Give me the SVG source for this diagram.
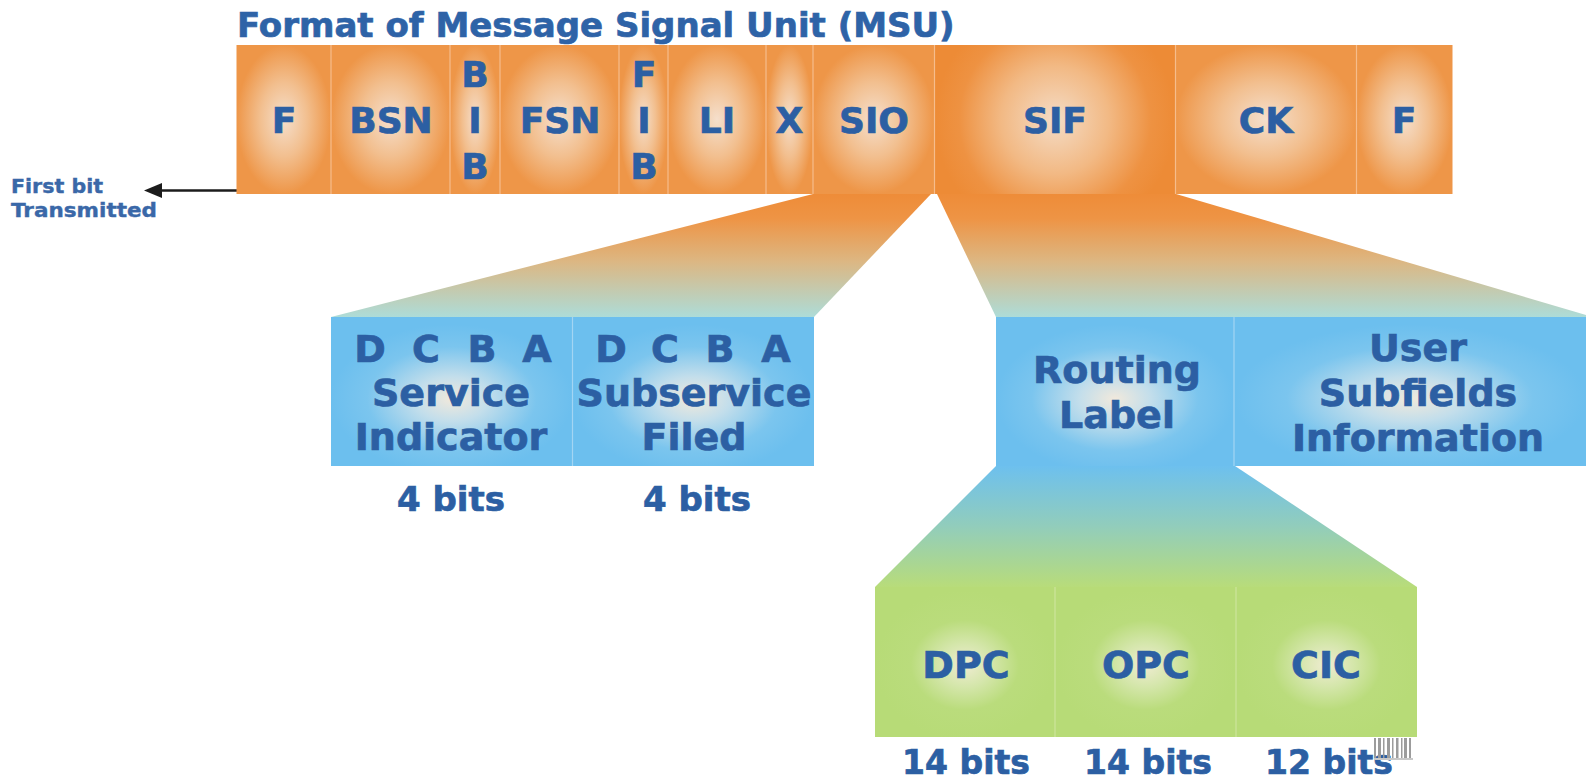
<svg xmlns="http://www.w3.org/2000/svg" width="1586" height="783" viewBox="0 0 1586 783">
  <defs>
    <style>
      .lbl { font-family: "DejaVu Sans", Verdana, sans-serif; font-weight: bold; fill: #2C5FA3; stroke: #2C5FA3; stroke-width: 0.7; text-anchor: middle; }
      .bar { font-size: 36px; }
      .box { font-size: 38px; }
      .bits { font-size: 34px; }
      .bits-low { font-size: 33px; }
      .div-o { stroke: #F6BC8C; stroke-width: 1.2; }
      .div-b { stroke: #A3D5F3; stroke-width: 1.2; }
      .div-g { stroke: #CDE49C; stroke-width: 1.2; }
    </style>
    <radialGradient id="orangeCell" cx="0.5" cy="0.5" r="0.5">
      <stop offset="0" stop-color="#F5DFCC"/>
      <stop offset="0.5" stop-color="#F2BF8F"/>
      <stop offset="1" stop-color="#EE9648"/>
    </radialGradient>
    <radialGradient id="sifGlow" gradientUnits="userSpaceOnUse" cx="1055" cy="120" r="120">
      <stop offset="0" stop-color="#F4DCC6"/>
      <stop offset="0.45" stop-color="#F2B984"/>
      <stop offset="0.8" stop-color="#EE9242"/>
      <stop offset="1" stop-color="#ED8B36"/>
    </radialGradient>
    <linearGradient id="funnelOrange" x1="0" y1="0" x2="0" y2="1">
      <stop offset="0" stop-color="#EE8C38"/>
      <stop offset="0.2" stop-color="#EE9445"/>
      <stop offset="0.55" stop-color="#DCB783"/>
      <stop offset="1" stop-color="#ADDCD8"/>
    </linearGradient>
    <linearGradient id="funnelBlue" x1="0" y1="0" x2="0" y2="1">
      <stop offset="0" stop-color="#6DC0EE"/>
      <stop offset="0.5" stop-color="#92CDBB"/>
      <stop offset="1" stop-color="#B8DC7A"/>
    </linearGradient>
    <radialGradient id="blueCell" cx="0.5" cy="0.55" r="0.5">
      <stop offset="0" stop-color="#F1E9DC"/>
      <stop offset="0.3" stop-color="#C3DEEB"/>
      <stop offset="0.7" stop-color="#7BC5EE"/>
      <stop offset="1" stop-color="#6CBFEE"/>
    </radialGradient>
    <radialGradient id="greenCell" cx="0.5" cy="0.52" r="0.5">
      <stop offset="0" stop-color="#EFECD2"/>
      <stop offset="0.3" stop-color="#D4E6AA"/>
      <stop offset="0.6" stop-color="#BADC7C"/>
      <stop offset="1" stop-color="#B7DB77"/>
    </radialGradient>
  </defs>

  <rect width="1586" height="783" fill="#FFFFFF"/>

  <text x="237" y="37" class="lbl" style="text-anchor:start;font-size:34px;fill:#2E63A7;stroke:#2E63A7">Format of Message Signal Unit (MSU)</text>

  <!-- expansion funnels and the transmit-direction arrow -->
  <g id="connectors">
    <polygon points="813,194 931,194 814,317 331,317" fill="url(#funnelOrange)"/>
    <polygon points="937,194 1176,194 1586,315 1586,317 996,317" fill="url(#funnelOrange)"/>
    <polygon points="996,466 1235,466 1417,587 875,587" fill="url(#funnelBlue)"/>
    <line x1="237" y1="190.5" x2="158" y2="190.5" stroke="#1C1C1C" stroke-width="2.5"/>
    <polygon points="144,190.5 162,183 162,198" fill="#1C1C1C"/>
  </g>

  <!-- MSU fields -->
  <g id="msu">
    <rect x="236.5" y="45" width="94.5" height="149" fill="url(#orangeCell)"/>
    <rect x="331" y="45" width="119" height="149" fill="url(#orangeCell)"/>
    <rect x="450" y="45" width="50" height="149" fill="url(#orangeCell)"/>
    <rect x="500" y="45" width="119" height="149" fill="url(#orangeCell)"/>
    <rect x="619" y="45" width="49" height="149" fill="url(#orangeCell)"/>
    <rect x="668" y="45" width="98" height="149" fill="url(#orangeCell)"/>
    <rect x="766" y="45" width="47" height="149" fill="url(#orangeCell)"/>
    <rect x="813" y="45" width="121.5" height="149" fill="url(#orangeCell)"/>
    <rect x="934.5" y="45" width="241" height="149" fill="url(#sifGlow)"/>
    <rect x="1175.5" y="45" width="181" height="149" fill="url(#orangeCell)"/>
    <rect x="1356.5" y="45" width="96" height="149" fill="url(#orangeCell)"/>
    <g class="div-o">
      <line x1="331" y1="45" x2="331" y2="194"/>
      <line x1="450" y1="45" x2="450" y2="194"/>
      <line x1="500" y1="45" x2="500" y2="194"/>
      <line x1="619" y1="45" x2="619" y2="194"/>
      <line x1="668" y1="45" x2="668" y2="194"/>
      <line x1="766" y1="45" x2="766" y2="194"/>
      <line x1="813" y1="45" x2="813" y2="194"/>
      <line x1="934.5" y1="45" x2="934.5" y2="194"/>
      <line x1="1175.5" y1="45" x2="1175.5" y2="194"/>
      <line x1="1356.5" y1="45" x2="1356.5" y2="194"/>
    </g>
  </g>
  <g id="f-open"><text x="284" y="133" class="lbl bar">F</text></g>
  <g id="bsn"><text x="391" y="133" class="lbl bar">BSN</text></g>
  <g id="bib">
    <text x="475" y="87" class="lbl bar">B</text>
    <text x="475" y="133" class="lbl bar">I</text>
    <text x="475" y="179" class="lbl bar">B</text>
  </g>
  <g id="fsn"><text x="560" y="133" class="lbl bar">FSN</text></g>
  <g id="fib">
    <text x="644" y="87" class="lbl bar">F</text>
    <text x="644" y="133" class="lbl bar">I</text>
    <text x="644" y="179" class="lbl bar">B</text>
  </g>
  <g id="li"><text x="717" y="133" class="lbl bar">LI</text></g>
  <g id="x"><text x="789.5" y="133" class="lbl bar">X</text></g>
  <g id="sio"><text x="874" y="133" class="lbl bar">SIO</text></g>
  <g id="sif"><text x="1055" y="133" class="lbl bar">SIF</text></g>
  <g id="ck"><text x="1266" y="133" class="lbl bar">CK</text></g>
  <g id="f-close"><text x="1404" y="133" class="lbl bar">F</text></g>

  <g id="first-bit">
    <text x="11" y="193" class="lbl" style="text-anchor:start;font-size:20px;fill:#3A68A8;stroke:#3A68A8;stroke-width:0.4" textLength="92" lengthAdjust="spacingAndGlyphs">First bit</text>
    <text x="11" y="217" class="lbl" style="text-anchor:start;font-size:20px;fill:#3A68A8;stroke:#3A68A8;stroke-width:0.4" textLength="146" lengthAdjust="spacingAndGlyphs">Transmitted</text>
  </g>

  <!-- SIO subfields -->
  <g id="service-indicator">
    <rect x="331" y="317" width="241.5" height="149" fill="url(#blueCell)"/>
    <text x="370" y="362" class="lbl box">D</text>
    <text x="426" y="362" class="lbl box">C</text>
    <text x="482" y="362" class="lbl box">B</text>
    <text x="537" y="362" class="lbl box">A</text>
    <text x="451" y="406" class="lbl box">Service</text>
    <text x="451" y="450" class="lbl box">Indicator</text>
    <text x="451" y="511" class="lbl bits">4 bits</text>
  </g>
  <g id="subservice-field">
    <rect x="572.5" y="317" width="241.5" height="149" fill="url(#blueCell)"/>
    <text x="611" y="362" class="lbl box">D</text>
    <text x="665" y="362" class="lbl box">C</text>
    <text x="720" y="362" class="lbl box">B</text>
    <text x="776" y="362" class="lbl box">A</text>
    <text x="694" y="406" class="lbl box">Subservice</text>
    <text x="694" y="450" class="lbl box">Filed</text>
    <text x="697" y="511" class="lbl bits">4 bits</text>
  </g>
  <line x1="572.5" y1="317" x2="572.5" y2="466" class="div-b"/>

  <!-- SIF subfields -->
  <g id="routing-label">
    <rect x="996" y="317" width="238" height="149" fill="url(#blueCell)"/>
    <text x="1117" y="383" class="lbl box">Routing</text>
    <text x="1117" y="428" class="lbl box">Label</text>
  </g>
  <g id="user-info">
    <rect x="1234" y="317" width="352" height="149" fill="url(#blueCell)"/>
    <text x="1418" y="361" class="lbl box">User</text>
    <text x="1418" y="406" class="lbl box">Subfields</text>
    <text x="1418" y="451" class="lbl box">Information</text>
  </g>
  <line x1="1234" y1="317" x2="1234" y2="466" class="div-b"/>

  <!-- routing label subfields -->
  <g id="dpc">
    <rect x="875" y="587" width="180" height="150" fill="url(#greenCell)"/>
    <text x="966" y="678" class="lbl box">DPC</text>
    <text x="966" y="774" class="lbl bits-low">14 bits</text>
  </g>
  <g id="opc">
    <rect x="1055" y="587" width="181" height="150" fill="url(#greenCell)"/>
    <text x="1146" y="678" class="lbl box">OPC</text>
    <text x="1148" y="774" class="lbl bits-low">14 bits</text>
  </g>
  <g id="cic">
    <rect x="1236" y="587" width="181" height="150" fill="url(#greenCell)"/>
    <text x="1326" y="678" class="lbl box">CIC</text>
    <text x="1329" y="774" class="lbl bits-low">12 bits</text>
  </g>
  <g class="div-g">
    <line x1="1055" y1="587" x2="1055" y2="737"/>
    <line x1="1236" y1="587" x2="1236" y2="737"/>
  </g>

  <!-- small barcode stamp under the CIC corner -->
  <g id="stamp" fill="#9C9C9C">
    <rect x="1374" y="738" width="2" height="21"/>
    <rect x="1378" y="738" width="3" height="21"/>
    <rect x="1383" y="738" width="1.5" height="21"/>
    <rect x="1387" y="738" width="3" height="21"/>
    <rect x="1392" y="738" width="1.5" height="21"/>
    <rect x="1396" y="738" width="2.5" height="21"/>
    <rect x="1401" y="738" width="1.5" height="21"/>
    <rect x="1404" y="738" width="3" height="21"/>
    <rect x="1409" y="738" width="2" height="21"/>
    <rect x="1374" y="758" width="39" height="2" fill="#C8C8C8"/>
  </g>
</svg>
